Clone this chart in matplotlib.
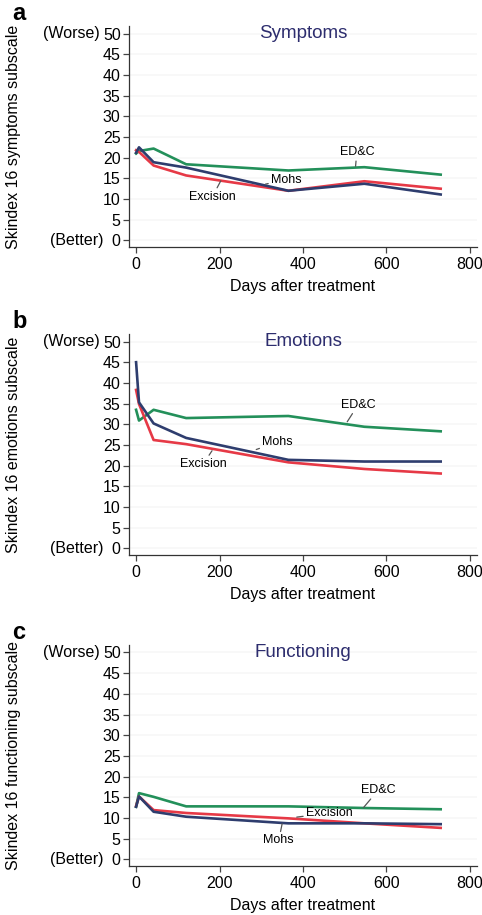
import matplotlib
matplotlib.use("Agg")
import matplotlib.pyplot as plt

plt.rcParams["font.family"] = ["Liberation Sans", "DejaVu Sans"]

# 时间点（天）
days = [0, 7, 42, 120, 365, 547, 730]

# a: Symptoms
sym_edc = [21.0, 21.6, 22.2, 18.4, 16.9, 17.7, 15.9]
sym_exc = [21.8, 21.4, 18.1, 15.7, 12.0, 14.3, 12.5]
sym_mohs = [21.2, 22.5, 18.9, 17.6, 12.0, 13.7, 11.1]

# b: Emotions
emo_edc = [33.5, 30.9, 33.5, 31.5, 32.0, 29.4, 28.3]
emo_exc = [38.3, 34.9, 26.2, 25.2, 20.8, 19.2, 18.1]
emo_mohs = [45.0, 35.3, 30.2, 26.7, 21.4, 21.0, 21.0]

# c: Functioning
fun_edc = [12.7, 16.0, 15.1, 12.8, 12.8, 12.4, 12.1]
fun_exc = [12.9, 15.2, 11.9, 11.2, 9.9, 8.7, 7.6]
fun_mohs = [12.7, 15.2, 11.5, 10.3, 8.7, 8.7, 8.5]

panels = ["a", "b", "c"]
titles = ["Symptoms", "Emotions", "Functioning"]
ylabels = ["Skindex 16 symptoms subscale",
           "Skindex 16 emotions subscale",
           "Skindex 16 functioning subscale"]
series = [(sym_edc, sym_exc, sym_mohs),
          (emo_edc, emo_exc, emo_mohs),
          (fun_edc, fun_exc, fun_mohs)]

# 标注：(文字, 文字位置, 指向点)
labels = [
    [("ED&C", (529, 21.3), (526, 17.9)),
     ("Mohs", (360, 14.7), (310, 13.6)),
     ("Excision", (183, 10.6), (203, 14.4))],
    [("ED&C", (532, 34.7), (506, 30.6)),
     ("Mohs", (339, 25.7), (288, 23.9)),
     ("Excision", (161, 20.4), (182, 23.6))],
    [("ED&C", (580, 16.7), (545, 12.5)),
     ("Excision", (463, 11.2), (385, 10.2)),
     ("Mohs", (342, 4.6), (350, 8.6))],
]

GREEN = "#23905a"
RED = "#e63946"
BLUE = "#2e3d6e"
TITLE_C = "#2d2d6e"

fig = plt.figure(figsize=(4.82, 9.15), dpi=100)
bottoms = [0.730, 0.3934, 0.0536]

for i in range(3):
    ax = fig.add_axes([0.2676, bottoms[i], 0.722, 0.2415])
    edc, exc, mohs = series[i]

    for y in range(0, 51, 5):
        ax.axhline(y, color="#f7f7f7", lw=1.2, zorder=0)

    ax.plot(days, edc, color=GREEN, lw=1.9)
    ax.plot(days, exc, color=RED, lw=1.9)
    ax.plot(days, mohs, color=BLUE, lw=1.9)

    ax.set_xlim(-17, 817)
    ax.set_ylim(-1.6, 51.8)
    ax.set_xticks([0, 200, 400, 600, 800])
    ax.set_yticks(range(0, 51, 5))
    ax.tick_params(labelsize=11.5, length=4.5, width=0.9, color="#444444", pad=1.5)
    ax.tick_params(axis="x", pad=3)

    for s in ["top", "right"]:
        ax.spines[s].set_visible(False)
    for s in ["left", "bottom"]:
        ax.spines[s].set_color("#333333")
        ax.spines[s].set_linewidth(0.9)

    ax.set_xlabel("Days after treatment", fontsize=11.5, labelpad=5)
    ax.set_ylabel(ylabels[i], fontsize=11.5)
    ax.yaxis.set_label_coords(-0.31, 0.5)

    ax.text(400, 50, titles[i], ha="center", va="center", fontsize=13.5, color=TITLE_C)
    ax.text(-86, 50, "(Worse)", ha="right", va="center", fontsize=11.5, clip_on=False)
    ax.text(-78, 0, "(Better)", ha="right", va="center", fontsize=11.5, clip_on=False)

    ax.text(-0.335, 1.055, panels[i], transform=ax.transAxes, fontsize=17,
            fontweight="bold", ha="left", va="center")

    for txt, pos, pt in labels[i]:
        ax.annotate(txt, xy=pt, xytext=pos, fontsize=9, ha="center", va="center",
                    arrowprops=dict(arrowstyle="-", color="#555555", lw=0.9,
                                    shrinkA=0, shrinkB=0))

plt.savefig("out.png", dpi=100)
